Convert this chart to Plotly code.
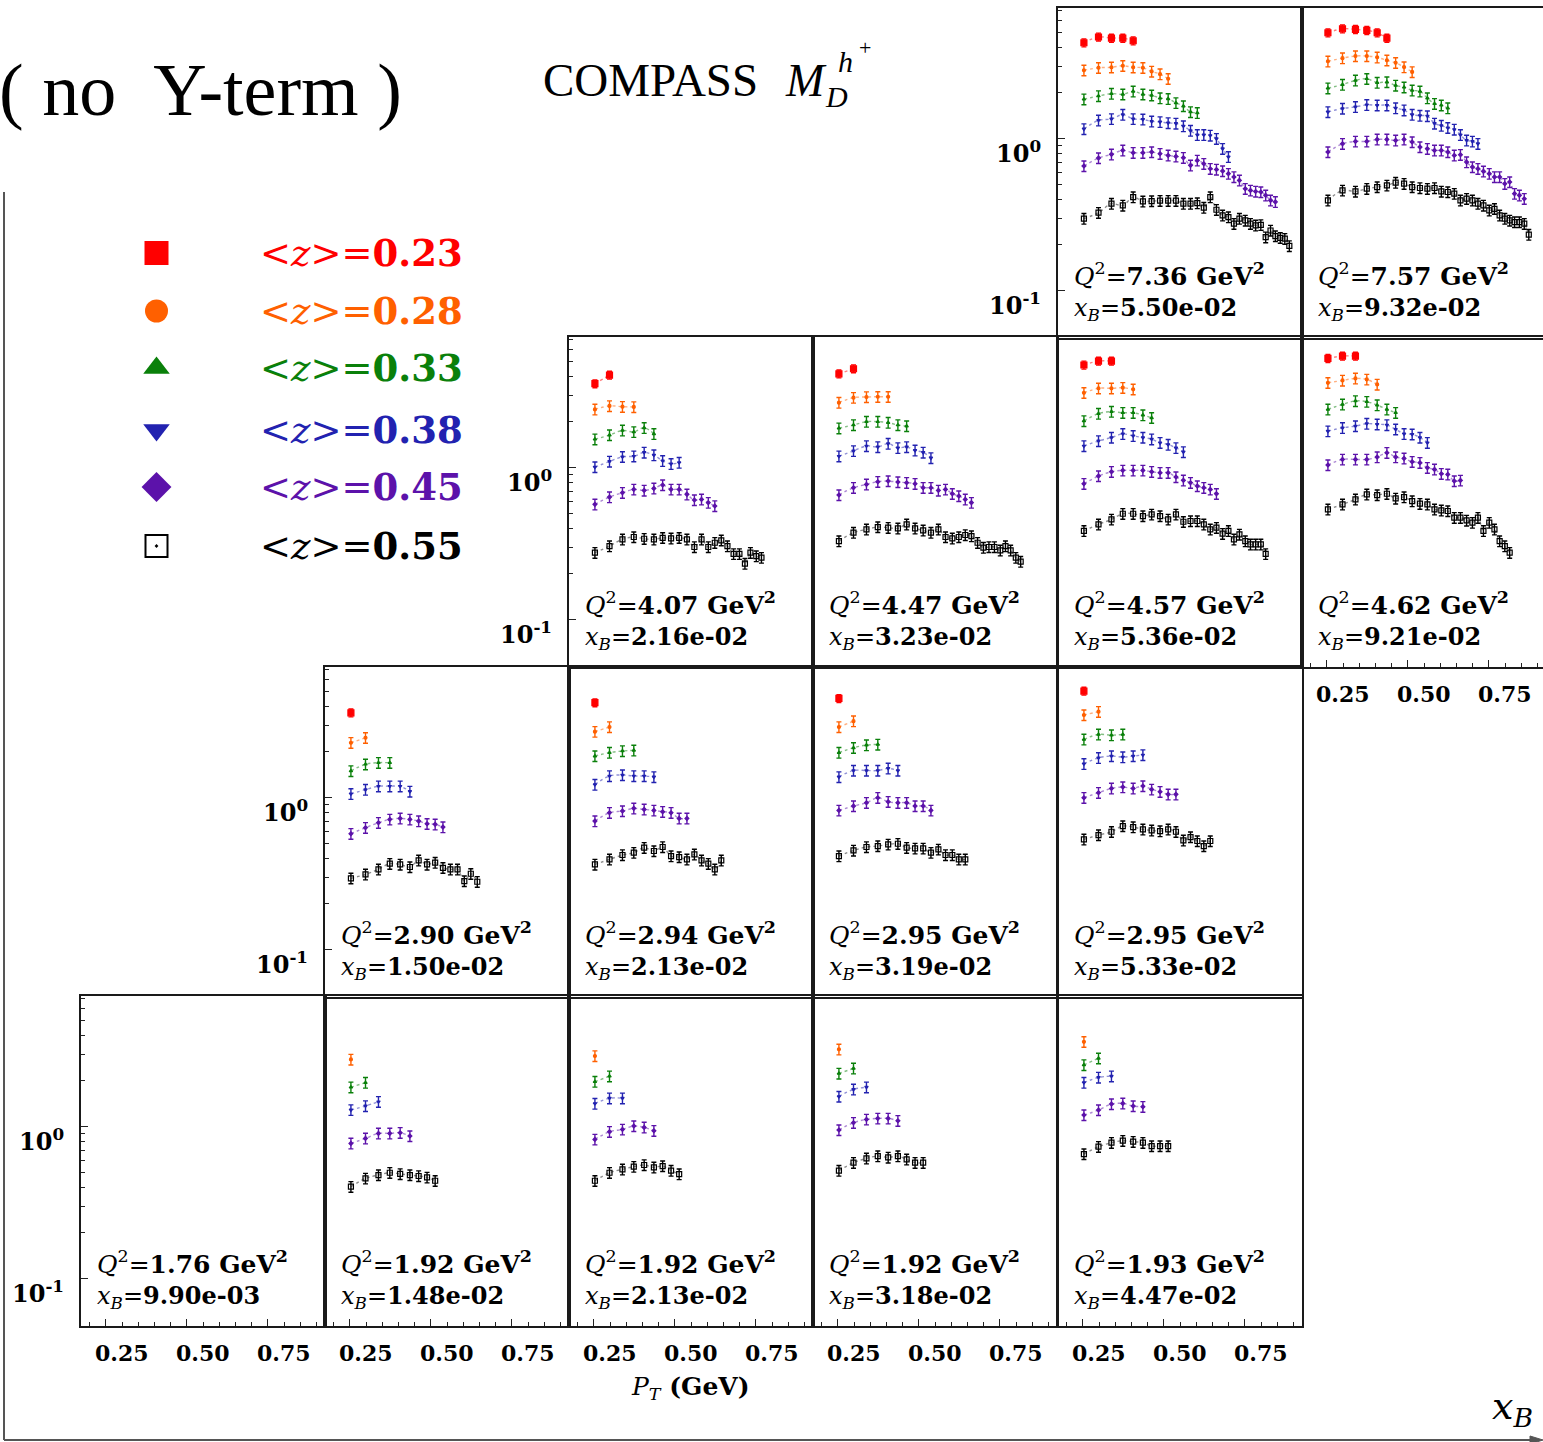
import math
import plotly.graph_objects as go

# ---------------- data ----------------
PT = [0.253, 0.298, 0.338, 0.373, 0.405, 0.435, 0.462, 0.488, 0.513, 0.537,
      0.560, 0.582, 0.603, 0.623, 0.643, 0.662, 0.681, 0.699, 0.716, 0.733,
      0.751, 0.767, 0.783, 0.799, 0.814, 0.829, 0.844, 0.859, 0.873, 0.887]

Z_LABELS = ["0.23", "0.28", "0.33", "0.38", "0.45", "0.55"]
X_TICKS = [0.25, 0.50, 0.75]
X_TICK_TEXT = ["0.25", "0.50", "0.75"]

# each panel: [red z=0.23, orange 0.28, green 0.33, blue 0.38, purple 0.45, black 0.55]
P_736 = [
    [4.28, 4.67, 4.59, 4.59, 4.41],
    [2.82, 2.93, 2.95, 3.02, 2.95, 2.93, 2.77, 2.66, 2.48],
    [1.82, 1.91, 1.98, 1.96, 2.05, 1.96, 1.93, 1.85, 1.83, 1.72, 1.64, 1.50, 1.48],
    [1.16, 1.32, 1.35, 1.44, 1.35, 1.34, 1.30, 1.29, 1.27, 1.26, 1.21, 1.13, 1.06, 1.06, 1.05, 1.00, 0.86, 0.76],
    [0.661, 0.746, 0.789, 0.838, 0.809, 0.809, 0.817, 0.797, 0.777, 0.765, 0.750, 0.668, 0.720, 0.685,
     0.635, 0.628, 0.613, 0.589, 0.560, 0.532, 0.469, 0.457, 0.450, 0.446, 0.424, 0.393, 0.384],
    [0.298, 0.326, 0.374, 0.364, 0.413, 0.387, 0.389, 0.391, 0.391, 0.391, 0.374, 0.374, 0.377, 0.352, 0.413,
     0.341, 0.313, 0.305, 0.276, 0.298, 0.290, 0.276, 0.269, 0.271, 0.225, 0.249, 0.229, 0.223, 0.220, 0.197],
]
P_757 = [
    [4.98, 5.29, 5.24, 5.16, 4.98, 4.59],
    [3.23, 3.39, 3.50, 3.50, 3.43, 3.28, 3.16, 2.96, 2.75],
    [2.15, 2.27, 2.42, 2.48, 2.34, 2.36, 2.24, 2.18, 2.08, 2.05, 1.85, 1.70, 1.66, 1.59],
    [1.50, 1.58, 1.62, 1.67, 1.66, 1.66, 1.59, 1.54, 1.44, 1.42, 1.41, 1.26, 1.22, 1.18, 1.15, 1.06, 0.975, 0.960, 0.927],
    [0.817, 0.927, 0.960, 0.960, 0.990, 0.990, 0.975, 0.990, 0.951, 0.882, 0.859, 0.838, 0.838, 0.817, 0.777,
     0.785, 0.702, 0.651, 0.635, 0.610, 0.589, 0.560, 0.560, 0.506, 0.519, 0.435, 0.424, 0.403],
    [0.393, 0.457, 0.450, 0.469, 0.481, 0.493, 0.514, 0.506, 0.481, 0.474, 0.469, 0.474, 0.450, 0.446, 0.435,
     0.393, 0.403, 0.393, 0.374, 0.364, 0.338, 0.346, 0.313, 0.298, 0.290, 0.283, 0.283, 0.276, 0.234],
]
P_407 = [
    [3.57, 4.07],
    [2.42, 2.55, 2.52, 2.51],
    [1.54, 1.64, 1.76, 1.72, 1.83, 1.67],
    [1.01, 1.10, 1.18, 1.19, 1.26, 1.21, 1.11, 1.06, 1.08],
    [0.574, 0.641, 0.685, 0.720, 0.709, 0.731, 0.769, 0.720, 0.720, 0.668, 0.613, 0.619, 0.589, 0.560],
    [0.276, 0.305, 0.338, 0.350, 0.341, 0.338, 0.346, 0.343, 0.346, 0.338, 0.301, 0.338, 0.301, 0.321, 0.333,
     0.305, 0.271, 0.271, 0.234, 0.276, 0.262, 0.256],
]
P_447 = [
    [4.15, 4.48],
    [2.68, 2.89, 2.92, 2.93, 2.93],
    [1.82, 1.91, 2.01, 2.01, 1.98, 1.91, 1.88],
    [1.19, 1.29, 1.39, 1.37, 1.44, 1.35, 1.37, 1.30, 1.26, 1.16],
    [0.661, 0.739, 0.777, 0.809, 0.817, 0.805, 0.797, 0.785, 0.739, 0.739, 0.709, 0.720, 0.674, 0.651, 0.619, 0.589],
    [0.329, 0.374, 0.393, 0.407, 0.403, 0.399, 0.424, 0.399, 0.387, 0.374, 0.393, 0.350, 0.343, 0.350, 0.361,
     0.355, 0.321, 0.298, 0.301, 0.301, 0.286, 0.305, 0.286, 0.256, 0.241],
]
P_457 = [
    [4.74, 5.03, 5.03],
    [3.11, 3.33, 3.33, 3.36, 3.28],
    [2.03, 2.27, 2.34, 2.30, 2.30, 2.22, 2.13],
    [1.39, 1.50, 1.58, 1.67, 1.62, 1.58, 1.54, 1.46, 1.42, 1.35, 1.27],
    [0.785, 0.882, 0.941, 0.960, 0.960, 0.960, 0.941, 0.927, 0.927, 0.868, 0.826, 0.797, 0.758, 0.739, 0.720, 0.674],
    [0.384, 0.424, 0.457, 0.498, 0.498, 0.481, 0.493, 0.481, 0.457, 0.493, 0.441, 0.446, 0.446, 0.424, 0.393,
     0.403, 0.368, 0.384, 0.338, 0.364, 0.329, 0.313, 0.313, 0.313, 0.271],
]
P_462 = [
    [5.24, 5.43, 5.43],
    [3.62, 3.75, 3.87, 3.81, 3.53],
    [2.42, 2.61, 2.75, 2.72, 2.58, 2.42, 2.30],
    [1.74, 1.83, 1.88, 1.95, 1.93, 1.91, 1.79, 1.67, 1.66, 1.58, 1.46],
    [1.041, 1.134, 1.134, 1.134, 1.175, 1.255, 1.175, 1.152, 1.095, 1.079, 1.0, 0.975, 0.913, 0.904, 0.817, 0.825],
    [0.532, 0.574, 0.619, 0.668, 0.661, 0.674, 0.628, 0.641, 0.603, 0.580, 0.574, 0.532, 0.524, 0.519, 0.469,
     0.469, 0.450, 0.435, 0.469, 0.384, 0.435, 0.393, 0.329, 0.305, 0.276],
]
P_290 = [
    [3.62],
    [2.30, 2.48],
    [1.50, 1.66, 1.70, 1.70],
    [1.06, 1.13, 1.19, 1.19, 1.19, 1.10],
    [0.580, 0.635, 0.685, 0.720, 0.731, 0.720, 0.702, 0.674, 0.668, 0.641],
    [0.295, 0.313, 0.338, 0.368, 0.364, 0.350, 0.387, 0.364, 0.374, 0.346, 0.338, 0.338, 0.283, 0.316, 0.280],
]
P_294 = [
    [4.22],
    [2.72, 2.92],
    [1.88, 1.98, 2.03, 2.05],
    [1.22, 1.39, 1.41, 1.39, 1.39, 1.37],
    [0.702, 0.797, 0.817, 0.851, 0.838, 0.825, 0.809, 0.797, 0.731, 0.731],
    [0.364, 0.393, 0.420, 0.435, 0.469, 0.446, 0.474, 0.413, 0.407, 0.393, 0.424, 0.387, 0.368, 0.338, 0.387],
]
P_295a = [
    [4.50],
    [2.92, 3.19],
    [1.98, 2.13, 2.22, 2.24],
    [1.37, 1.51, 1.51, 1.51, 1.56, 1.51],
    [0.825, 0.882, 0.927, 1.0, 0.941, 0.927, 0.927, 0.882, 0.882, 0.825],
    [0.413, 0.450, 0.474, 0.481, 0.493, 0.498, 0.469, 0.464, 0.464, 0.435, 0.457, 0.420, 0.420, 0.393, 0.393],
]
P_295b = [
    [5.03],
    [3.50, 3.68],
    [2.42, 2.61, 2.58, 2.61],
    [1.67, 1.83, 1.88, 1.85, 1.88, 1.91],
    [1.0, 1.079, 1.152, 1.175, 1.152, 1.193, 1.134, 1.095, 1.052, 1.052],
    [0.532, 0.568, 0.597, 0.651, 0.641, 0.619, 0.610, 0.603, 0.619, 0.597, 0.524, 0.551, 0.519, 0.481, 0.519],
]
P_176 = [[], [], [], [], [], []]
P_192a = [
    [],
    [2.77],
    [1.82, 1.95],
    [1.29, 1.37, 1.46],
    [0.777, 0.838, 0.904, 0.904, 0.913, 0.868],
    [0.403, 0.457, 0.481, 0.498, 0.489, 0.481, 0.474, 0.464, 0.441],
]
P_192b = [
    [],
    [2.92],
    [1.98, 2.15],
    [1.42, 1.54, 1.54],
    [0.825, 0.927, 0.960, 1.01, 0.990, 0.941],
    [0.441, 0.498, 0.524, 0.546, 0.560, 0.540, 0.551, 0.514, 0.488],
]
P_192c = [
    [],
    [3.23],
    [2.24, 2.42],
    [1.58, 1.76, 1.82],
    [0.951, 1.063, 1.117, 1.134, 1.134, 1.095],
    [0.514, 0.580, 0.619, 0.641, 0.628, 0.641, 0.610, 0.580, 0.580],
]
P_193 = [
    [],
    [3.62],
    [2.55, 2.82],
    [1.95, 2.11, 2.15],
    [1.193, 1.287, 1.41, 1.424, 1.368, 1.354],
    [0.661, 0.739, 0.785, 0.809, 0.797, 0.785, 0.746, 0.746, 0.746],
]

# (row, col, Q^2 label, x_B label, data)
PANELS = [
    (0, 4, "7.36", "5.50e-02", P_736),
    (0, 5, "7.57", "9.32e-02", P_757),
    (1, 2, "4.07", "2.16e-02", P_407),
    (1, 3, "4.47", "3.23e-02", P_447),
    (1, 4, "4.57", "5.36e-02", P_457),
    (1, 5, "4.62", "9.21e-02", P_462),
    (2, 1, "2.90", "1.50e-02", P_290),
    (2, 2, "2.94", "2.13e-02", P_294),
    (2, 3, "2.95", "3.19e-02", P_295a),
    (2, 4, "2.95", "5.33e-02", P_295b),
    (3, 0, "1.76", "9.90e-03", P_176),
    (3, 1, "1.92", "1.48e-02", P_192a),
    (3, 2, "1.92", "2.13e-02", P_192b),
    (3, 3, "1.92", "3.18e-02", P_192c),
    (3, 4, "1.93", "4.47e-02", P_193),
]

# ---------------- style ----------------
W, H = 1543, 1442
COL_LEFT = [81, 325, 569, 813, 1058, 1302]
ROW_TOP = [8, 337, 667, 996]
PW, PH = 244, 330
PX_PER_UNIT = 324.0
X0 = 0.173
LOG_TOP = 0.86
PX_PER_DEC = 152.0

COLORS = ["#ff0000", "#ff6000", "#0a800a", "#2222b0", "#5c12aa", "#000000"]
LINE_COLORS = ["rgba(255,0,0,0.5)", "rgba(255,96,0,0.5)", "rgba(10,128,10,0.5)",
               "rgba(34,34,176,0.5)", "rgba(92,18,170,0.5)", "rgba(0,0,0,0.45)"]
SYMBOLS = ["square", "circle", "triangle-up", "triangle-down", "diamond", "square-open"]
MSIZE = [6, 3, 3, 3, 3, 5]
ERRP = [6, 8, 8, 8, 8, 8]
SERIF = "DejaVu Serif"
TIMES = "Liberation Serif"

fig = go.Figure()
layout = dict(width=W, height=H, margin=dict(l=0, r=0, t=0, b=0, autoexpand=False),
              paper_bgcolor="white", plot_bgcolor="rgba(0,0,0,0)", showlegend=False)

def px2paper(px, py):
    return px / W, 1 - py / H

annotations = []

def ann(text, px, py, size, color="black", xanchor="center", yanchor="middle", family=SERIF):
    x, y = px2paper(px, py)
    annotations.append(dict(text=text, x=x, y=y, xref="paper", yref="paper", showarrow=False,
                            font=dict(size=size, color=color, family=family),
                            xanchor=xanchor, yanchor=yanchor))

Y_MAJOR = [0.1, 1.0]
Y_MINOR = [0.2, 0.3, 0.4, 0.5, 0.6, 0.7, 0.8, 0.9, 2, 3, 4, 5, 6, 7]
X_MINOR = [round(0.2 + 0.05 * i, 2) for i in range(15)]

left_in_row = {0: 4, 1: 2, 2: 1, 3: 0}

for k, (r, c, q2, xb, data) in enumerate(PANELS, start=1):
    left = COL_LEFT[c]
    top = ROW_TOP[r]
    right = min(left + PW, W)
    width = right - left
    xd = [left / W, right / W]
    yd = [1 - (top + PH) / H, 1 - top / H]
    xr = [X0, X0 + width / PX_PER_UNIT]
    yr = [LOG_TOP - PH / PX_PER_DEC, LOG_TOP]
    show_x = (r == 3) or (r == 1 and c == 5)
    show_y = left_in_row[r] == c
    xa = dict(domain=xd, range=xr, anchor="y%d" % k, showgrid=False, zeroline=False,
              showline=True, mirror=True, linecolor="#1a1a1a", linewidth=1.6,
              showticklabels=False, fixedrange=True)
    ya = dict(domain=yd, range=yr, type="log", anchor="x%d" % k, showgrid=False, zeroline=False,
              showline=True, mirror=True, linecolor="#1a1a1a", linewidth=1.6,
              showticklabels=False, fixedrange=True)
    if show_x:
        xa.update(ticks="inside", tickmode="array", tickvals=X_TICKS, ticklen=7, tickcolor="#222",
                  minor=dict(tickmode="array", tickvals=X_MINOR, ticks="inside", ticklen=4,
                             tickcolor="#222", showgrid=False))
        for v, t in zip(X_TICKS, X_TICK_TEXT):
            ann("<b>%s</b>" % t, left + (v - X0) * PX_PER_UNIT + 16, top + PH + 27, 22)
    else:
        xa.update(ticks="")
    if show_y:
        ya.update(ticks="inside", tickmode="array", tickvals=Y_MAJOR, ticklen=7, tickcolor="#222",
                  minor=dict(tickmode="array", tickvals=Y_MINOR, ticks="inside", ticklen=4,
                             tickcolor="#222", showgrid=False))
        for v, t in zip(Y_MAJOR, ["-1", "0"]):
            py = top + (LOG_TOP - math.log10(v)) * PX_PER_DEC + 13
            ann("<b>10</b><sup><b>%s</b></sup>" % t, left - 15, py, 24, xanchor="right")
    else:
        ya.update(ticks="")
    layout["xaxis%d" % k] = xa
    layout["yaxis%d" % k] = ya

    # an empty trace makes sure every panel frame is drawn (even panels without data)
    fig.add_trace(go.Scatter(x=[], y=[], xaxis="x%d" % k, yaxis="y%d" % k, mode="markers",
                             hoverinfo="skip"))
    for s in range(6):
        vals = data[s]
        if not vals:
            continue
        fig.add_trace(go.Scatter(
            x=PT[:len(vals)], y=vals, xaxis="x%d" % k, yaxis="y%d" % k,
            mode="lines+markers",
            line=dict(color=LINE_COLORS[s], width=1.4, dash="dot", shape="spline"),
            marker=dict(symbol=SYMBOLS[s], size=MSIZE[s], color=COLORS[s],
                        line=dict(color=COLORS[s], width=1.2)),
            error_y=dict(type="percent", value=ERRP[s], color=COLORS[s], thickness=1.4, width=2.5),
            hoverinfo="skip"))

    ann("<i>Q</i><sup>2</sup>=<b>%s GeV</b><sup><b>2</b></sup>" % q2, left + 14, top + 266, 25,
        xanchor="left")
    ann("<i>x</i><sub><i>B</i></sub>=<b>%s</b>" % xb, left + 14, top + 301, 24, xanchor="left")

# overlay axis in pixel coordinates for legend markers and frame
OV = 16
layout["xaxis%d" % OV] = dict(domain=[0, 1], range=[0, W], visible=False, fixedrange=True,
                             anchor="y%d" % OV)
layout["yaxis%d" % OV] = dict(domain=[0, 1], range=[H, 0], visible=False, fixedrange=True,
                             anchor="x%d" % OV)

LEG_Y = [253, 311, 368, 430, 487, 546]
LEG_SIZE = [24, 23, 23, 23, 23, 22]
LEG_SYM = ["square", "circle", "triangle-up", "triangle-down", "diamond", "square-open-dot"]
for s in range(6):
    fig.add_trace(go.Scatter(
        x=[156.5], y=[LEG_Y[s]], xaxis="x%d" % OV, yaxis="y%d" % OV, mode="markers",
        marker=dict(symbol=LEG_SYM[s], size=LEG_SIZE[s], color=COLORS[s],
                    line=dict(color=COLORS[s] if s < 5 else "#333", width=2 if s == 5 else 0)),
        hoverinfo="skip"))
    ann("&lt;<i>z</i>&gt;=<b>%s</b>" % Z_LABELS[s], 258, LEG_Y[s], 37, color=COLORS[s],
        xanchor="left")

# titles
ann("(\u00a0no\u00a0\u00a0Y-term\u00a0)", -3, 90, 74, xanchor="left", family=TIMES)
ann("COMPASS", 541, 80, 47, xanchor="left", family=TIMES)
ann("<i>M</i>", 783, 81, 46, xanchor="left", family=TIMES)
ann("<i>D</i>", 823, 97, 30, xanchor="left", family=TIMES)
ann("<i>h</i>", 836, 62, 30, xanchor="left", family=TIMES)
ann("+", 857, 48, 22, xanchor="left", family=TIMES)

# axis titles
ann("<i>P</i><sub><i>T</i></sub><b> (GeV)</b>", 690, 1388, 25)
ann("<i>x</i><sub><i>B</i></sub>", 1512, 1408, 38)

shapes = [
    dict(type="line", xref="x%d" % OV, yref="y%d" % OV, x0=4, y0=192, x1=4, y1=1440,
         line=dict(color="#555", width=2)),
    dict(type="line", xref="x%d" % OV, yref="y%d" % OV, x0=4, y0=1440, x1=1536, y1=1440,
         line=dict(color="#555", width=2)),
    dict(type="path", xref="x%d" % OV, yref="y%d" % OV,
         path="M 1530 1436 L 1543 1440 L 1530 1444 Z", fillcolor="#555", line=dict(color="#555", width=1)),
]

layout["annotations"] = annotations
layout["shapes"] = shapes
fig.update_layout(**layout)
fig.write_html("out.html", config={"displayModeBar": False},
               post_script="document.body.style.margin='0px';document.body.style.overflow='hidden';")
